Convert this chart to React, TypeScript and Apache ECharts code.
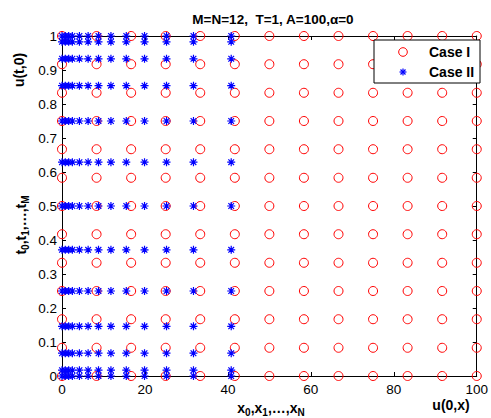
import React, { useEffect, useRef } from 'react';
import * as echarts from 'echarts';

// Case I: uniform grid (13 x 13)
const caseIX = [0, 8.33, 16.67, 25, 33.33, 41.67, 50, 58.33, 66.67, 75, 83.33, 91.67, 100];
const caseIY = [0, 0.083, 0.167, 0.25, 0.333, 0.417, 0.5, 0.583, 0.667, 0.75, 0.833, 0.917, 1];
// Case II: graded grid (13 x 13)
const caseIIX = [0, 0.8, 1.6, 2.5, 4.2, 6.3, 8.8, 11.8, 15.5, 19.9, 25.2, 31.7, 40.8];
const caseIIY = [0, 0.017, 0.067, 0.146, 0.25, 0.371, 0.5, 0.629, 0.75, 0.854, 0.933, 0.983, 1];

const seriesNames = ['Case I', 'Case II'];
const titleText = 'M=N=12,  T=1, A=100,α=0';

const FONT = "'Liberation Sans', Arial, Helvetica, sans-serif";
const STAR_PATH = 'path://M0,-4L0,4M-4,0L4,0M-2.83,-2.83L2.83,2.83M-2.83,2.83L2.83,-2.83';

function grid(xs: number[], ys: number[]) {
  const out: number[][] = [];
  for (const y of ys) for (const x of xs) out.push([x, y]);
  return out;
}

const subRich = {
  n: { fontSize: 14, fontWeight: 'bold', fontFamily: FONT, verticalAlign: 'top', color: '#000' },
  s: { fontSize: 10, fontWeight: 'bold', fontFamily: FONT, verticalAlign: 'top', padding: [7, 0, 0, 0], color: '#000' },
};

export default function App() {
  const ref = useRef<HTMLDivElement>(null);
  useEffect(() => {
    const chart = echarts.init(ref.current!, null, { renderer: 'svg' });
    const axisCommon = {
      axisLine: { show: true, onZero: false, lineStyle: { color: '#000', width: 1 } },
      axisTick: { show: true, inside: true, length: 4, lineStyle: { color: '#000' } },
      splitLine: { show: false },
    };
    const option: any = {
      animation: false,
      backgroundColor: '#fff',
      grid: { left: 62, right: 6, top: 36, bottom: 42 },
      xAxis: [
        {
          type: 'value', min: 0, max: 100, interval: 20, position: 'bottom',
          ...axisCommon,
          axisLabel: { show: true, margin: 6, color: '#000', fontSize: 13.5, fontFamily: FONT },
        },
        {
          type: 'value', min: 0, max: 100, interval: 20, position: 'top',
          ...axisCommon,
          axisLabel: { show: false },
        },
      ],
      yAxis: [
        {
          type: 'value', min: 0, max: 1, interval: 0.1, position: 'left',
          ...axisCommon,
          axisLabel: {
            show: true, margin: 5, color: '#000', fontSize: 13.5, fontFamily: FONT,
            formatter: (v: number) => String(Math.round(v * 10) / 10),
          },
        },
        {
          type: 'value', min: 0, max: 1, interval: 0.1, position: 'right',
          ...axisCommon,
          axisLabel: { show: false },
        },
      ],
      series: [
        {
          name: seriesNames[0], type: 'scatter', clip: false,
          symbol: 'circle', symbolSize: 9,
          itemStyle: { color: 'rgba(0,0,0,0)', borderColor: '#ff0000', borderWidth: 1, opacity: 1 },
          data: grid(caseIX, caseIY), z: 3,
        },
        {
          name: seriesNames[1], type: 'scatter', clip: false,
          symbol: STAR_PATH, symbolSize: 8,
          itemStyle: { color: 'rgba(0,0,0,0)', borderColor: '#0000ff', borderWidth: 1.2, opacity: 1 },
          data: grid(caseIIX, caseIIY), z: 4,
        },
      ],
      graphic: [
        {
          type: 'text', x: 273, y: 19, z: 100,
          style: { text: titleText, font: `bold 13.5px ${FONT}`, fill: '#000', align: 'center', verticalAlign: 'middle' },
        },
        {
          type: 'text', x: 19, y: 70, rotation: Math.PI / 2, z: 100,
          style: { text: 'u(t,0)', font: `bold 14px ${FONT}`, fill: '#000', align: 'center', verticalAlign: 'middle' },
        },
        {
          type: 'text', x: 22, y: 225, rotation: Math.PI / 2, z: 100,
          style: {
            text: '{n|t}{s|0}{n|,t}{s|1}{n|,…,t}{s|M}', rich: subRich,
            align: 'center', verticalAlign: 'middle',
          },
        },
        {
          type: 'text', x: 271, y: 409, z: 100,
          style: {
            text: '{n|x}{s|0}{n|,x}{s|1}{n|,…,x}{s|N}', rich: subRich,
            align: 'center', verticalAlign: 'middle',
          },
        },
        {
          type: 'text', x: 451, y: 405, z: 100,
          style: { text: 'u(0,x)', font: `bold 14px ${FONT}`, fill: '#000', align: 'center', verticalAlign: 'middle' },
        },
        // legend box
        {
          type: 'rect', z: 100,
          shape: { x: 374, y: 40, width: 106, height: 43 },
          style: { fill: '#fff', stroke: '#000', lineWidth: 1 },
        },
        {
          type: 'circle', z: 101,
          shape: { cx: 403, cy: 52, r: 4.3 },
          style: { fill: 'none', stroke: '#ff0000', lineWidth: 1 },
        },
        {
          type: 'group', x: 403, y: 72, z: 101,
          children: [
            { type: 'line', z: 101, shape: { x1: 0, y1: -3.5, x2: 0, y2: 3.5 }, style: { stroke: '#0000ff', lineWidth: 1.2 } },
            { type: 'line', z: 101, shape: { x1: -3.5, y1: 0, x2: 3.5, y2: 0 }, style: { stroke: '#0000ff', lineWidth: 1.2 } },
            { type: 'line', z: 101, shape: { x1: -2.5, y1: -2.5, x2: 2.5, y2: 2.5 }, style: { stroke: '#0000ff', lineWidth: 1.2 } },
            { type: 'line', z: 101, shape: { x1: -2.5, y1: 2.5, x2: 2.5, y2: -2.5 }, style: { stroke: '#0000ff', lineWidth: 1.2 } },
          ],
        },
        {
          type: 'text', x: 429, y: 52, z: 101,
          style: { text: seriesNames[0], font: `bold 14px ${FONT}`, fill: '#000', align: 'left', verticalAlign: 'middle' },
        },
        {
          type: 'text', x: 429, y: 72, z: 101,
          style: { text: seriesNames[1], font: `bold 14px ${FONT}`, fill: '#000', align: 'left', verticalAlign: 'middle' },
        },
      ],
    };
    chart.setOption(option);
    return () => chart.dispose();
  }, []);
  return <div ref={ref} style={{ position: 'absolute', left: 0, top: 0, width: 491, height: 418 }} />;
}
